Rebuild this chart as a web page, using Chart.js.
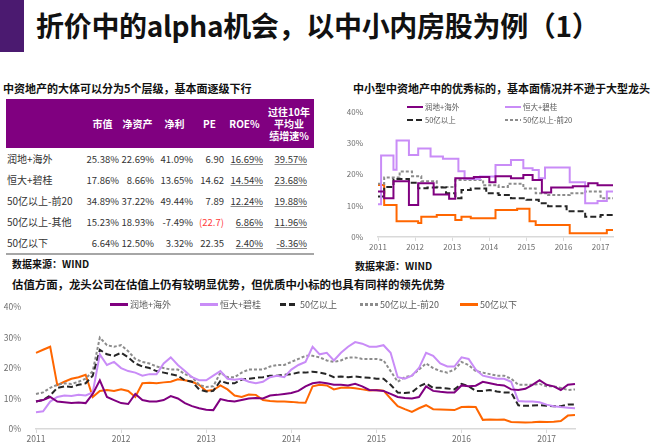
<!DOCTYPE html>
<html>
<head>
<meta charset="utf-8">
<script src="https://cdn.jsdelivr.net/npm/chart.js@4.4.1/dist/chart.umd.min.js"></script>
<style>
  body { margin:0; width:660px; height:448px; background:#fff; position:relative; overflow:hidden;
         font-family:'Noto Sans CJK SC','Noto Sans',sans-serif; color:#111; }
  .abs { position:absolute; white-space:nowrap; }
  #bar { left:0; top:0; width:24px; height:52px; background:#4b1a70; }
  #title { left:36px; top:5px; font-size:28px; font-weight:bold; line-height:40px; letter-spacing:-0.3px; }
  .h2 { font-size:11px; font-weight:bold; line-height:14px; }
  .src { font-size:10px; font-weight:bold; line-height:14px; }
  #tbl { position:absolute; left:6px; top:99px; width:308px; border-collapse:collapse; table-layout:fixed; }
  #tbl th { background:#800080; color:#fff; font-size:10px; font-weight:bold; height:49px; padding:0; text-align:center; line-height:12px; }
  #tbl td { height:21px; padding:0 1px 0 0; text-align:right; font-size:9.5px; color:#333; }
  #tbl td.lab { text-align:left; padding-left:1px; font-size:10px; }
  #tbl td.ul { text-decoration:underline; text-decoration-color:#8c8c8c; }
  #tbl td.neg { color:#ff3b3b; }
  #tbl td.last { padding-right:7px; }
  #tbl tr:last-child td { border-bottom:2px solid #a6a6a6; }
  .lg { position:absolute; white-space:nowrap; color:#595959; display:flex; align-items:center; }
  .ln { display:inline-block; margin-right:2px; }
  .wrap { position:absolute; }
</style>
</head>
<body>
<div id="bar" class="abs"></div>
<div id="title" class="abs">折价中的alpha机会，以中小内房股为例（1）</div>

<div class="abs h2" style="left:3px;top:81px">中资地产的大体可以分为5个层级，基本面逐级下行</div>
<table id="tbl"></table>
<div class="abs src" style="left:12px;top:257px">数据来源：WIND</div>

<div class="abs h2" style="left:353px;top:81px">中小型中资地产中的优秀标的，基本面情况并不逊于大型龙头</div>
<div class="wrap" style="left:340px;top:100px;width:280px;height:155px"><canvas id="c1" width="280" height="155"></canvas></div>
<div id="lg1"></div>
<div class="abs src" style="left:355px;top:259px">数据来源：WIND</div>

<div class="abs h2" style="left:12px;top:277px;font-size:11.4px">估值方面，龙头公司在估值上仍有较明显优势，但优质中小标的也具有同样的领先优势</div>
<div class="wrap" style="left:0;top:295px;width:600px;height:153px"><canvas id="c2" width="600" height="153"></canvas></div>
<div id="lg2"></div>

<script>
// ---- table data ----
const tblHead = ["", "市值", "净资产", "净利", "PE", "ROE%", "过往10年<br>平均业<br>绩增速%"];
const tblRows = ["润地+海外", "恒大+碧桂", "50亿以上-前20", "50亿以上-其他", "50亿以下"];
const mktCap  = ["25.38%", "17.86%", "34.89%", "15.23%", "6.64%"];
const netAsset = ["22.69%", "8.66%", "37.22%", "18.93%", "12.50%"];
const netProfit = ["41.09%", "13.65%", "49.44%", "-7.49%", "3.32%"];
const peVals  = ["6.90", "14.62", "7.89", "(22.7)", "22.35"];
const roeVals = ["16.69%", "14.54%", "12.24%", "6.86%", "2.40%"];
const growth10 = ["39.57%", "23.68%", "19.88%", "11.96%", "-8.36%"];

// ---- chart data (monthly, 2011-01 .. 2017-05) ----
const firstYear = 2011, lastYear = 2017, lastMonth = 5;
const months = [];
for (let y = firstYear; y <= lastYear; y++) {
  for (let m = 1; m <= 12; m++) {
    if (y === lastYear && m > lastMonth) break;
    months.push(y + "-" + String(m).padStart(2, "0"));
  }
}
const seriesNames = ["润地+海外", "恒大+碧桂", "50亿以上", "50亿以上-前20", "50亿以下"];

// top right chart: ROE-like step series (%)
const roeRundi = [14.5,14.5,14.5,12.4,12.4,12.4,17.8,17.8,17.8,17.8,17.8,10.2,10.2,10.2,17.2,17.2,17.2,17.2,17.2,13.6,
  13.6,13.6,13.6,13.6,12.2,12.2,18.8,18.8,18.8,18.8,18.8,18.8,19.2,19.2,19.2,19.2,19.2,17.5,17.5,19.4,
  19.4,19.4,19.4,19.4,18.8,18.8,18.8,18.8,19.8,19.8,19.8,18.2,18.2,18.2,14.2,14.2,14.2,15.8,15.8,15.8,
  15.8,15.8,15.8,15.8,16.2,16.2,16.2,16.2,16.2,17.2,17.2,17.2,16.5,16.5,16.5,16.5,16.5];
const roeHengda = [10.5,10.5,26,26,26,26,21.5,30.8,30.8,30.8,30.8,26.2,26.2,26.2,28.3,28.3,28.3,28.3,25.7,25.7,
  25.7,25.7,25,25,25,25,25,21,21,18.5,18.5,18.5,18.5,18.5,19.3,19.3,19.3,19.3,19.3,23,
  23,23,23,23,24.6,24.6,24.6,24.6,22,22,22,21.4,21.4,18.8,18.8,22.2,22.2,22.2,22.2,22.2,
  22.2,22.2,22.2,17.5,17.5,17.5,17.5,17.5,10.8,10.8,10.8,10.8,11.5,11.5,11.5,14.5,14.5];
const roeAbove50 = [12.9,12.9,12.9,16,16,16,18.5,18.5,18.5,18.5,18.5,17.3,17.3,17.3,15.6,15.6,15.6,15.8,15.8,15.8,
  15.8,15.8,15.8,14,14,14,12.4,12.4,15,15,15,15.5,15.5,15.5,15.5,15.5,14,14,14,14,
  13.4,13.4,13.4,13.4,12.4,12.4,12.4,12.4,12.4,11.9,11.9,11.9,11.9,10.8,10.8,10.8,9.8,9.8,9.8,9.8,
  9.8,9.8,8.2,8.2,8.2,8.2,8.2,8.2,6.5,6.5,6.5,6.5,6.5,7,7,7,7];
const roeTop20 = [17,17,17,19,19,19,19,19,20.9,20.9,20.9,20.9,19.4,19.4,19.4,17.8,17.8,17.8,17.8,17.8,
  16,16,16,16,16,16,18.2,18.2,18.2,18.2,18.2,18.2,18.2,18.2,18.2,16.5,16.5,16.5,16.5,16.5,
  16,16,16,17,17,17,17,17,15.5,15.5,15.5,15.5,14,14,14,14,13.4,13.4,13.4,13.4,
  13.4,13.4,13.4,14,14,14,14,14,14.5,14.5,14.5,14.5,14.5,12.4,12.4,12.4,12.4];
const roeBelow50 = [16.6,16.6,16.6,10.2,10.2,10.2,10.2,5,5,5,5,5,5,5,4.5,6.5,6.5,6.5,6.5,6.5,
  7,7,7,7,7,7,5.4,5.4,6.5,6.5,6.5,6,6,6,6,6,6,6,6,8.6,
  8.6,8.6,8.6,8.6,8.6,8.6,9,9,9,9,5,5,3.8,3.8,3.8,3.8,3.8,3.8,3.8,3.8,
  3.8,3.8,3.8,1.2,1.2,1.2,1.2,1.2,1.2,1.2,1.2,1.2,1.2,1.2,1.2,2.2,2.2];

// bottom chart: valuation series (%)
const valRundi = [9.0,9.5,10.5,9.0,8.8,8.5,8.7,8.5,11.5,16.0,10.5,9.5,8.5,8.2,11.5,9.5,9.0,9.0,9.5,10.8,
  10.0,8.5,7.5,6.8,6.3,6.2,9.8,9.3,9.0,9.5,10.0,10.2,10.0,11.0,11.2,11.5,11.8,12.5,14.0,15.0,
  15.3,15.0,14.5,14.5,14.3,14.8,14.0,12.8,12.7,12.5,11.5,10.5,10.2,10.0,10.5,14.0,12.5,12.2,12.0,12.0,
  14.3,14.0,14.2,15.5,15.0,14.5,14.3,13.0,12.8,13.2,14.5,16.0,14.5,14.0,12.8,14.5,14.8];
const valHengda = [5.5,5.8,9.0,10.5,11.0,10.8,11.2,11.0,12.0,24.5,21.0,22.0,20.0,19.0,18.5,17.5,18.0,18.0,21.5,23.5,
  21.0,19.0,17.0,16.0,16.0,17.5,19.0,16.5,16.2,16.5,15.5,15.0,15.5,17.0,17.5,17.0,19.5,21.0,22.0,27.0,
  24.5,25.0,22.5,25.0,27.0,28.5,28.0,27.0,27.0,27.5,25.0,17.0,16.5,17.5,20.0,25.0,24.0,21.5,20.5,20.5,
  23.5,23.0,19.5,17.5,17.0,16.5,16.5,15.5,9.2,9.0,9.0,8.8,8.0,7.5,7.2,7.0,6.8];
const valAbove50 = [9.0,9.5,11.0,13.5,14.0,13.8,14.5,15.0,17.5,26.0,24.5,24.0,25.0,23.5,21.5,20.5,20.0,19.0,18.5,18.0,
  17.5,16.0,15.5,13.0,12.3,12.5,15.8,15.0,15.0,16.2,16.5,16.8,17.0,17.5,17.5,17.8,18.0,18.5,18.5,18.8,
  18.5,18.0,17.0,17.2,17.0,17.2,17.0,16.8,16.5,16.5,14.5,12.0,11.8,12.0,14.0,15.0,13.5,13.5,13.3,13.0,
  14.8,14.0,12.5,12.5,12.8,12.3,12.0,12.0,7.8,7.6,7.7,7.8,7.6,7.5,7.5,8.0,8.0];
const valTop20 = [11.5,12.0,13.5,14.5,15.0,14.8,15.5,16.5,19.0,30.0,27.5,27.0,27.5,25.5,23.0,22.0,21.5,20.5,20.0,19.5,
  19.5,18.0,17.0,14.5,13.8,14.0,18.5,17.0,17.0,18.5,19.5,19.5,19.5,20.5,21.0,21.0,22.0,23.0,24.0,24.0,
  23.5,22.5,22.0,22.5,23.5,23.5,23.0,23.0,23.0,22.5,19.0,15.5,17.0,17.5,19.5,21.5,20.0,19.0,18.5,19.5,
  22.0,21.0,19.0,18.5,18.0,17.5,17.5,16.5,14.5,14.5,14.5,14.8,14.0,14.0,13.5,12.8,13.0];
const valBelow50 = [25.0,26.0,27.0,14.4,15.5,16.5,17.0,17.8,10.5,12.5,12.8,12.5,13.0,12.5,10.5,15.0,15.2,15.0,15.3,15.5,
  16.3,16.0,15.5,14.5,12.5,12.8,14.3,13.0,11.0,10.5,11.3,11.2,9.5,9.2,9.0,9.0,8.9,8.7,8.6,14.0,
  14.5,14.3,13.0,13.5,13.6,13.4,13.0,12.6,12.8,12.6,10.0,7.5,6.5,5.6,6.8,7.8,6.5,6.4,6.3,6.2,
  7.2,7.3,7.2,3.0,3.1,3.0,3.1,2.3,2.2,2.1,2.2,2.4,2.3,2.4,2.6,4.4,4.6];
const yTicks = [0, 10, 20, 30, 40];

// ---- styles ----
const colors = ["#800080", "#c98cf7", "#262626", "#8c8c8c", "#ff6600"];
const dashes = [[], [], [6, 3], [3, 2], []];
const fontFam = "'Noto Sans CJK SC','Noto Sans',sans-serif";

// table
const tbl = document.getElementById("tbl");
const colW = [79, 35, 35, 39, 31, 39, 50];
let html = "<colgroup>" + colW.map(w => '<col style="width:' + w + 'px">').join("") + "</colgroup>";
html += "<tr>" + tblHead.map(h => "<th>" + h + "</th>").join("") + "</tr>";
tblRows.forEach((r, i) => {
  html += "<tr><td class='lab'>" + r + "</td><td>" + mktCap[i] + "</td><td>" + netAsset[i] + "</td><td>" +
    netProfit[i] + "</td><td" + (peVals[i].startsWith("(") ? " class='neg'" : "") + ">" + peVals[i] +
    "</td><td class='ul'>" + roeVals[i] + "</td><td class='ul last'>" + growth10[i] + "</td></tr>";
});
tbl.innerHTML = html;

function legendItems(el, items, fs, lineW, lineH) {
  el.innerHTML = items.map(it => {
    const c = colors[it.i];
    const bg = dashes[it.i].length
      ? "repeating-linear-gradient(90deg," + c + " 0 " + dashes[it.i][0] + "px,transparent " + dashes[it.i][0] + "px " + (dashes[it.i][0] + dashes[it.i][1]) + "px)"
      : c;
    return '<div class="lg" style="left:' + it.x + 'px;top:' + it.y + 'px;font-size:' + fs + 'px;line-height:' + (fs + 4) + 'px">' +
      '<span class="ln" style="width:' + lineW + 'px;height:' + lineH + 'px;background:' + bg + '"></span>' + seriesNames[it.i] + '</div>';
  }).join("");
}
legendItems(document.getElementById("lg1"), [
  {i: 0, x: 407, y: 101}, {i: 1, x: 505, y: 101}, {i: 2, x: 407, y: 114}, {i: 3, x: 505, y: 114}
], 7.5, 16, 2.5);
legendItems(document.getElementById("lg2"), [
  {i: 0, x: 110, y: 298}, {i: 1, x: 200, y: 298}, {i: 2, x: 280, y: 298}, {i: 3, x: 360, y: 298}, {i: 4, x: 460, y: 298}
], 9, 18, 3);

function makeChart(id, series, opt) {
  const ds = series.map((d, i) => ({
    label: seriesNames[i],
    data: d,
    borderColor: colors[i],
    backgroundColor: colors[i],
    borderDash: dashes[i],
    borderWidth: opt.lw,
    pointRadius: 0,
    tension: 0,
    stepped: opt.stepped,
    fill: false
  }));
  return new Chart(document.getElementById(id), {
    type: "line",
    data: { labels: months, datasets: ds },
    options: {
      responsive: false,
      animation: false,
      events: [],
      layout: { padding: { top: opt.padTop, right: opt.padRight, left: 0, bottom: 0 } },
      plugins: { legend: { display: false }, tooltip: { enabled: false } },
      scales: {
        x: {
          offset: false,
          grid: { display: true, drawOnChartArea: false, tickLength: 4, color: "#d9d9d9" },
          border: { display: true, color: "#d9d9d9", width: 1.5 },
          ticks: {
            autoSkip: false, maxRotation: 0, padding: 1, color: "#6e6e6e",
            font: { family: fontFam, size: opt.fs },
            callback: (v, i) => months[i].endsWith("-01") ? months[i].slice(0, 4) : null
          },
          afterFit: s => { s.height = opt.xH; }
        },
        y: {
          min: yTicks[0], max: yTicks[yTicks.length - 1],
          afterBuildTicks: s => { s.ticks = yTicks.map(v => ({ value: v })); },
          grid: { display: false },
          border: { display: false },
          ticks: { padding: 7, color: "#6e6e6e", font: { family: fontFam, size: opt.fs }, callback: v => v + "%" },
          afterFit: s => { s.width = opt.yW; }
        }
      }
    }
  });
}

makeChart("c1", [roeRundi, roeHengda, roeAbove50, roeTop20, roeBelow50],
  { lw: 2, stepped: "after", padTop: 11, padRight: 7, xH: 18, yW: 38, fs: 8 });
makeChart("c2", [valRundi, valHengda, valAbove50, valTop20, valBelow50],
  { lw: 2, stepped: false, padTop: 7, padRight: 25, xH: 19, yW: 36, fs: 8.5 });
</script>
</body>
</html>
